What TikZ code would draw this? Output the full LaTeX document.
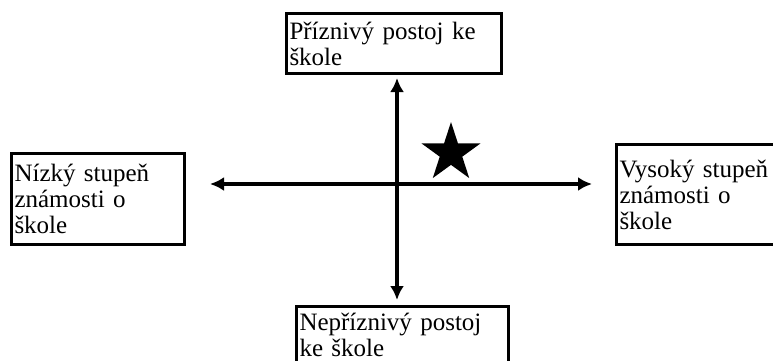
\documentclass[tikz,border=0pt]{standalone}
\usepackage{fontspec}
\setmainfont{Liberation Serif}
\usetikzlibrary{arrows.meta,shapes.geometric}

\begin{document}
\begin{tikzpicture}[
    x=1pt, y=-1pt,
    % boxes for the four ends of the two axes
    pole/.style={
        rectangle,
        draw=black,
        line width=3pt,
        fill=white,
        anchor=north west,
        inner xsep=3pt,
        inner ysep=0pt,
        align=left,
        font=\fontsize{25}{26}\selectfont,
        },
    axis/.style={
        line width=3.2pt,
        {Latex[length=14pt,width=14pt]}-{Latex[length=14pt,width=14pt]},
        },
    ]
    \useasboundingbox (0,0) rectangle (773,360);

    \node [pole, text width=209pt, minimum height=60pt] (good) at (285,12) {Příznivý postoj ke\\škole};
    \node [pole, text width=167pt, minimum height=91pt] (low) at (10,152) {Nízký stupeň\\známosti o\\škole};
    \node [pole, text width=194pt, minimum height=100pt] (high) at (615,143) {Vysoký stupeň\\známosti o\\škole};
    \node [pole, text width=206pt, minimum height=56pt] (bad) at (295,305) {Nepříznivý postoj\\ke škole};

    \coordinate (origin) at (397,184);
    \draw [axis, shorten <=24pt, shorten >=23pt] (origin -| low.east) -- (origin -| high.west);
    \draw [axis, shorten <=3pt, shorten >=5pt] (origin |- good.south) -- (origin |- bad.north);

    \node [star, star points=5, star point ratio=2.618, fill=black, minimum size=62pt, inner sep=0pt] (mark) at (451,153) {};

\end{tikzpicture}
\end{document}
